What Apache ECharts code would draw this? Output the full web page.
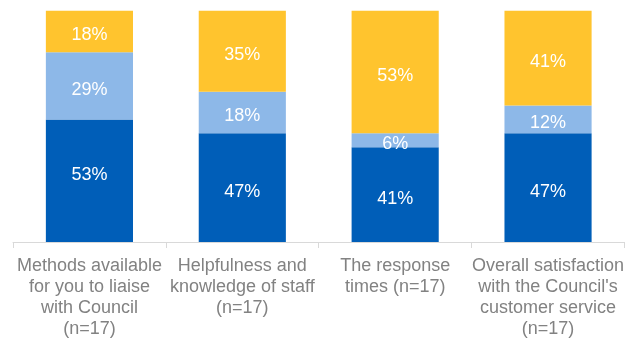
<!DOCTYPE html>
<html>
<head>
<meta charset="utf-8">
<script src="https://cdn.jsdelivr.net/npm/echarts@6/dist/echarts.min.js"></script>
<style>
  html, body { margin: 0; padding: 0; background: #fff; }
  #chart { width: 627px; height: 340px; }
</style>
</head>
<body>
<div id="chart"></div>
<script>
// Survey satisfaction breakdown, percentages per question
const categories = [
  'Methods available\nfor you to liaise\nwith Council\n(n=17)',
  'Helpfulness and\nknowledge of staff\n(n=17)',
  'The response\ntimes (n=17)',
  'Overall satisfaction\nwith the Council\'s\ncustomer service\n(n=17)'
];
const satisfied = [53, 47, 41, 47];
const neutral = [29, 18, 6, 12];
const dissatisfied = [18, 35, 53, 41];

const colors = ['#005EB8', '#8DB8E8', '#FFC42E'];

const labelStyle = {
  show: true,
  position: 'inside',
  offset: [0, 4],
  color: '#ffffff',
  fontFamily: 'Liberation Sans, Arial, sans-serif',
  fontSize: 18,
  formatter: p => p.value + '%'
};

function stackSeries(name, data, color) {
  return {
    name: name,
    type: 'bar',
    stack: 'total',
    barWidth: '57%',
    data: data,
    itemStyle: { color: color },
    label: labelStyle
  };
}

const satisfiedSeries = stackSeries('Satisfied', satisfied, colors[0]);
// the first column's label sits higher inside its tall segment
satisfiedSeries.data = satisfied.map((v, i) =>
  i === 0 ? { value: v, label: { offset: [0, -6] } } : v
);

const chart = echarts.init(document.getElementById('chart'), null, { renderer: 'canvas' });
chart.setOption({
  animation: false,
  grid: { left: 13, right: 2, top: 10.7, bottom: 94.3, containLabel: false },
  xAxis: {
    type: 'category',
    data: categories,
    axisLine: { lineStyle: { color: '#D9D9D9', width: 1 } },
    axisTick: { show: true, length: 6, lineStyle: { color: '#D9D9D9' } },
    axisLabel: {
      interval: 0,
      color: '#828282',
      fontFamily: 'Liberation Sans, Arial, sans-serif',
      fontSize: 18,
      lineHeight: 21,
      margin: 14
    }
  },
  yAxis: {
    type: 'value',
    min: 0,
    max: 100,
    show: false,
    splitLine: { show: false }
  },
  series: [
    satisfiedSeries,
    stackSeries('Neutral', neutral, colors[1]),
    stackSeries('Dissatisfied', dissatisfied, colors[2])
  ]
});
</script>
</body>
</html>
